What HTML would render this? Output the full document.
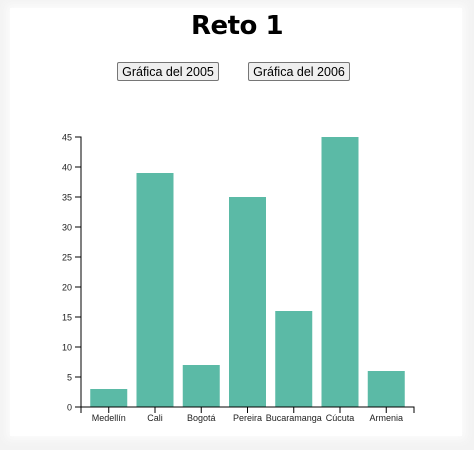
<!DOCTYPE html>
<html><head><meta charset="utf-8"><style>
body{margin:0;background:#f3f3f3;width:474px;height:450px;overflow:hidden;font-family:"Liberation Sans",sans-serif}
#card{position:absolute;left:10px;top:8px;width:452px;height:428px;background:#fff;box-shadow:0 0 8px 4px #fbfbfb}
h1{position:absolute;left:0;top:11px;width:474px;margin:0;text-align:center;font:bold 26px "DejaVu Sans",sans-serif;color:#000;letter-spacing:-0.5px}
button{position:absolute;top:62px;height:19px;font:12.5px "Liberation Sans",sans-serif;background:#efefef;border:1px solid #767676;border-radius:2px;padding:0;color:#000;white-space:nowrap;text-align:center;line-height:16px}
svg{position:absolute;left:0;top:0}
</style></head><body>
<div id="card"></div>
<h1>Reto 1</h1>
<button style="left:117px;width:102px">Gráfica del 2005</button>
<button style="left:248px;width:102px">Gráfica del 2006</button>
<svg id="chart" width="474" height="450"></svg>
<script>
const categories=["Medellín","Cali","Bogotá","Pereira","Bucaramanga","Cúcuta","Armenia"];
const values=[3,39,7,35,16,45,6];
const yTicks=[0,5,10,15,20,25,30,35,40,45];
const ns="http://www.w3.org/2000/svg",svg=document.getElementById('chart');
const x0=81,x1=414,y0=407,y1=137,yMax=45;
const step=(x1-x0)/(categories.length+0.2),bw=step*0.8;
const xb=i=>x0+step*0.2+i*step;
const y=v=>y0-(v/yMax)*(y0-y1);
function mk(t,a){const e=document.createElementNS(ns,t);for(const k in a)e.setAttribute(k,a[k]);svg.appendChild(e);return e;}
values.forEach((v,i)=>{const r=mk('rect',{x:xb(i),y:y(v),width:bw,height:y0-y(v),fill:'#5bbaa6'});

});
const ax=mk('path',{d:`M${x0},${y0+6}V${y0}H${x1}V${y0+6}`,stroke:'#000',fill:'none'});


categories.forEach((c,i)=>{const cx=xb(i)+bw/2;mk('line',{x1:cx,x2:cx,y1:y0,y2:y0+6,stroke:'#000'});
const t=mk('text',{x:cx,y:y0+14,'text-anchor':'middle','font-size':'9','font-family':'Liberation Sans, sans-serif',fill:'#222'});t.textContent=c;

});
const ay=mk('path',{d:`M${x0-6},${y1}H${x0}V${y0}H${x0-6}`,stroke:'#000',fill:'none'});


yTicks.forEach(v=>{mk('line',{x1:x0-6,x2:x0,y1:y(v),y2:y(v),stroke:'#000'});
const t=mk('text',{x:x0-9,y:y(v)+3.5,'text-anchor':'end','font-size':'9','font-family':'Liberation Sans, sans-serif',fill:'#222'});t.textContent=v;

});
</script>
</body></html>
